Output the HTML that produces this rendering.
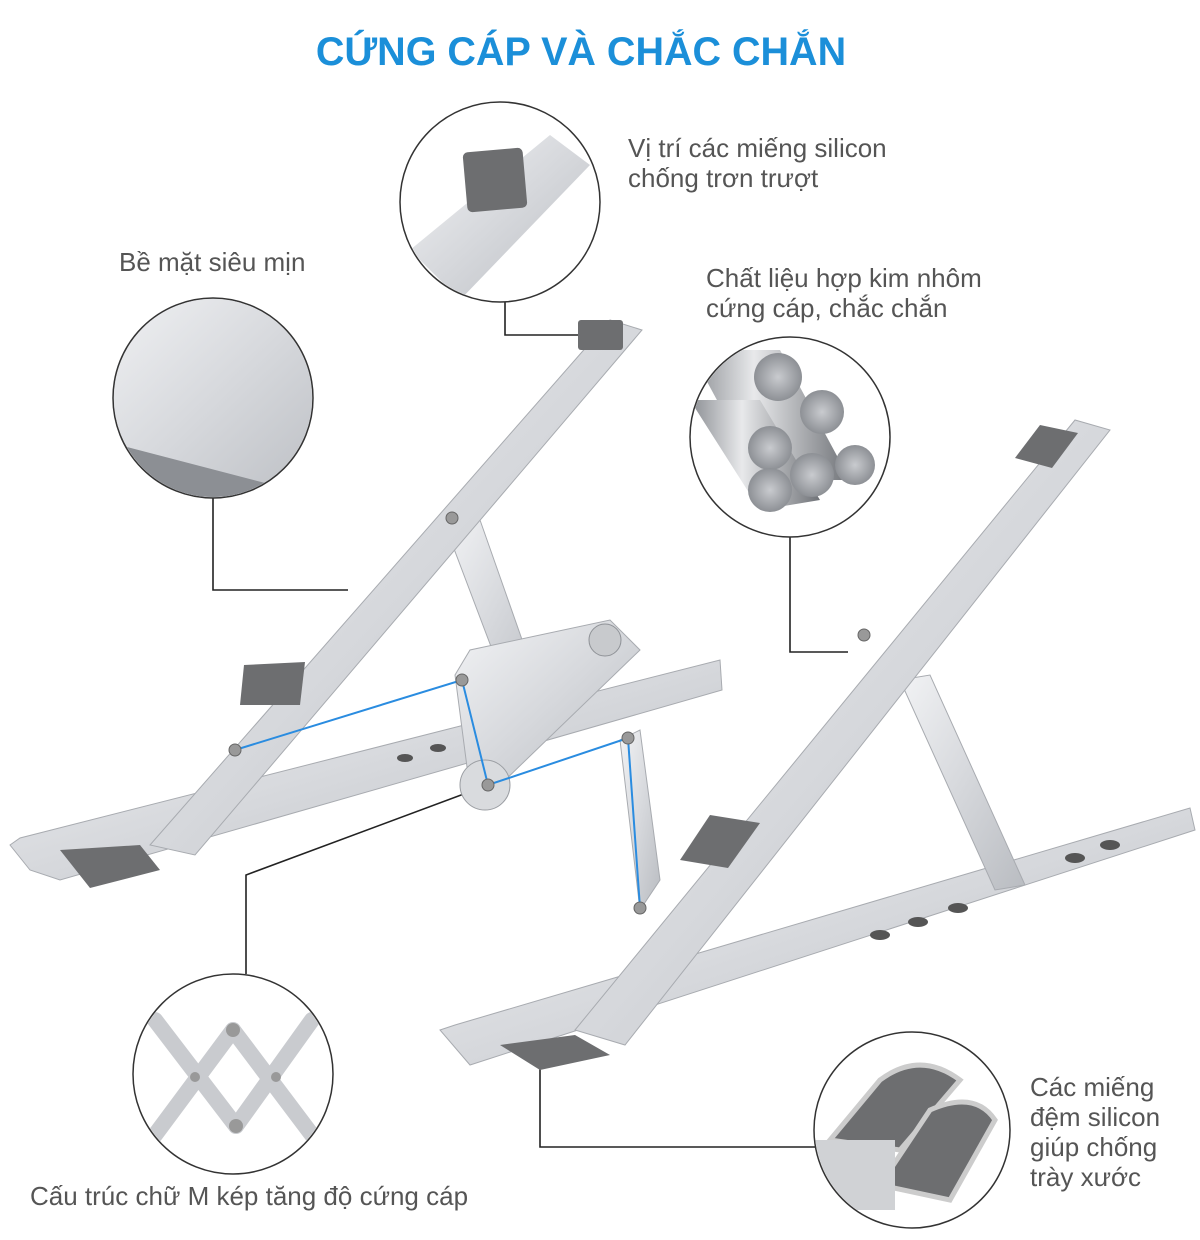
<!DOCTYPE html>
<html><head><meta charset="utf-8"><style>
body{margin:0;background:#fff;}
svg{display:block}
text{font-family:"Liberation Sans","DejaVu Sans",sans-serif;}
</style></head><body>
<svg width="1200" height="1240" viewBox="0 0 1200 1240" xmlns="http://www.w3.org/2000/svg">
<defs>
<linearGradient id="al" x1="0" y1="0" x2="1" y2="1">
<stop offset="0" stop-color="#f2f3f5"/><stop offset="0.5" stop-color="#d6d8dc"/><stop offset="1" stop-color="#b9bcc1"/></linearGradient>
<linearGradient id="rod" x1="0" y1="0" x2="1" y2="0">
<stop offset="0" stop-color="#8a8d92"/><stop offset="0.4" stop-color="#e8e9eb"/><stop offset="1" stop-color="#6f7277"/></linearGradient>
<radialGradient id="end"><stop offset="0" stop-color="#c9cbcf"/><stop offset="1" stop-color="#8d9095"/></radialGradient>
</defs>
<text x="581" y="65" text-anchor="middle" font-size="39.5" font-weight="bold" fill="#1b8fd9">CỨNG CÁP VÀ CHẮC CHẮN</text>

<g font-size="26" fill="#555">
<text x="628" y="157">Vị trí các miếng silicon</text>
<text x="628" y="187">chống trơn trượt</text>
<text x="119" y="271">Bề mặt siêu mịn</text>
<text x="706" y="287">Chất liệu hợp kim nhôm</text>
<text x="706" y="317">cứng cáp, chắc chắn</text>
<text x="30" y="1205">Cấu trúc chữ M kép tăng độ cứng cáp</text>
<text x="1030" y="1096">Các miếng</text>
<text x="1030" y="1126">đệm silicon</text>
<text x="1030" y="1156">giúp chống</text>
<text x="1030" y="1186">trày xước</text>
</g>

<g stroke="#222" stroke-width="1.6" fill="none">
<polyline points="505,300 505,335 578,335"/>
<polyline points="213,498 213,590 348,590"/>
<polyline points="790,537 790,652 848,652"/>
<polyline points="246,974 246,875 488,785"/>
<polyline points="540,1060 540,1147 815,1147"/>
</g>

<polygon points="10,845 20,838 720,660 722,690 60,880 30,870" fill="url(#al)" stroke="#a8abb0"/>
<polygon points="445,525 480,520 545,705 515,710" fill="url(#al)" stroke="#a8abb0"/>
<polygon points="150,845 610,320 642,330 195,855" fill="url(#al)" stroke="#a8abb0"/>
<rect x="578" y="320" width="45" height="30" rx="3" fill="#6d6e70"/>
<polygon points="244,665 305,662 300,705 240,705" fill="#6d6e70"/>
<polygon points="60,850 140,845 160,870 90,888" fill="#6d6e70"/>
<polygon points="455,675 470,650 610,620 640,650 500,785 470,790" fill="url(#al)" stroke="#a8abb0"/>
<circle cx="605" cy="640" r="16" fill="#c8cacd" stroke="#8f9297"/>
<circle cx="485" cy="785" r="25" fill="#d9dbde" stroke="#9a9da2"/>

<polygon points="440,1030 455,1025 1190,808 1195,830 470,1065" fill="url(#al)" stroke="#a8abb0"/>
<polygon points="900,680 930,675 1025,885 995,890" fill="url(#al)" stroke="#a8abb0"/>
<polygon points="575,1030 1075,420 1110,430 625,1045" fill="url(#al)" stroke="#a8abb0"/>
<polygon points="1015,458 1040,425 1078,433 1052,468" fill="#6d6e70"/>
<polygon points="680,860 710,815 760,823 728,868" fill="#6d6e70"/>
<polygon points="500,1045 575,1035 610,1055 540,1070" fill="#6d6e70"/>
<polygon points="620,740 640,730 660,880 640,910" fill="url(#al)" stroke="#a8abb0"/>
<g fill="#555"><ellipse cx="880" cy="935" rx="10" ry="5"/><ellipse cx="918" cy="922" rx="10" ry="5"/><ellipse cx="958" cy="908" rx="10" ry="5"/><ellipse cx="1075" cy="858" rx="10" ry="5"/><ellipse cx="1110" cy="845" rx="10" ry="5"/><ellipse cx="405" cy="758" rx="8" ry="4"/><ellipse cx="438" cy="748" rx="8" ry="4"/></g>

<g stroke="#2a8ce0" stroke-width="2" fill="none">
<polyline points="235,750 462,680 488,785 628,738 640,908"/>
</g>
<g fill="#999" stroke="#666"><circle cx="235" cy="750" r="6"/><circle cx="462" cy="680" r="6"/><circle cx="488" cy="785" r="6"/><circle cx="628" cy="738" r="6"/><circle cx="640" cy="908" r="6"/><circle cx="452" cy="518" r="6"/><circle cx="864" cy="635" r="6"/></g>

<g stroke="#333" stroke-width="1.5">
<circle cx="500" cy="202" r="100" fill="#fff"/>
<circle cx="213" cy="398" r="100" fill="#dcdde0"/>
<circle cx="790" cy="437" r="100" fill="#fff"/>
<circle cx="233" cy="1074" r="100" fill="#fff"/>
<circle cx="912" cy="1130" r="98" fill="#fff"/>
</g>
<clipPath id="c1"><circle cx="500" cy="202" r="99"/></clipPath>
<g clip-path="url(#c1)"><polygon points="410,250 550,135 590,165 460,300" fill="url(#al)"/><rect x="465" y="150" width="60" height="60" rx="5" fill="#6d6e70" transform="rotate(-5 495 180)"/></g>
<clipPath id="c2"><circle cx="213" cy="398" r="99"/></clipPath>
<g clip-path="url(#c2)"><rect x="100" y="290" width="230" height="220" fill="url(#al)"/><polygon points="100,440 330,500 330,520 100,520" fill="#8c8f94"/></g>
<clipPath id="c3"><circle cx="790" cy="437" r="99"/></clipPath>
<g clip-path="url(#c3)">
<polygon points="690,350 780,350 850,480 760,480" fill="url(#rod)"/>
<polygon points="690,400 760,400 820,500 760,510" fill="url(#rod)"/>
<circle cx="778" cy="377" r="24" fill="url(#end)"/><circle cx="822" cy="412" r="22" fill="url(#end)"/>
<circle cx="770" cy="448" r="22" fill="url(#end)"/><circle cx="812" cy="475" r="22" fill="url(#end)"/>
<circle cx="855" cy="465" r="20" fill="url(#end)"/><circle cx="770" cy="490" r="22" fill="url(#end)"/></g>
<clipPath id="c4"><circle cx="233" cy="1074" r="99"/></clipPath>
<g clip-path="url(#c4)" stroke="#c9cbcf" stroke-width="16" stroke-linecap="round">
<line x1="155" y1="1020" x2="236" y2="1126"/><line x1="233" y1="1030" x2="155" y2="1135"/>
<line x1="233" y1="1030" x2="312" y2="1135"/><line x1="312" y1="1020" x2="236" y2="1126"/>
<circle cx="233" cy="1030" r="7" fill="#999" stroke="none"/><circle cx="236" cy="1126" r="7" fill="#999" stroke="none"/>
<circle cx="195" cy="1077" r="5" fill="#999" stroke="none"/><circle cx="276" cy="1077" r="5" fill="#999" stroke="none"/></g>
<clipPath id="c5"><circle cx="912" cy="1130" r="97"/></clipPath>
<g clip-path="url(#c5)">
<path d="M830,1140 L880,1080 Q920,1050 960,1080 L900,1150 Z" fill="#6d6e70" stroke="#ccc" stroke-width="5"/>
<path d="M880,1185 L930,1110 Q975,1090 995,1120 L950,1200 Z" fill="#6d6e70" stroke="#ccc" stroke-width="5"/>
<rect x="815" y="1140" width="80" height="70" fill="#d0d2d5"/></g>
</svg>
</body></html>
